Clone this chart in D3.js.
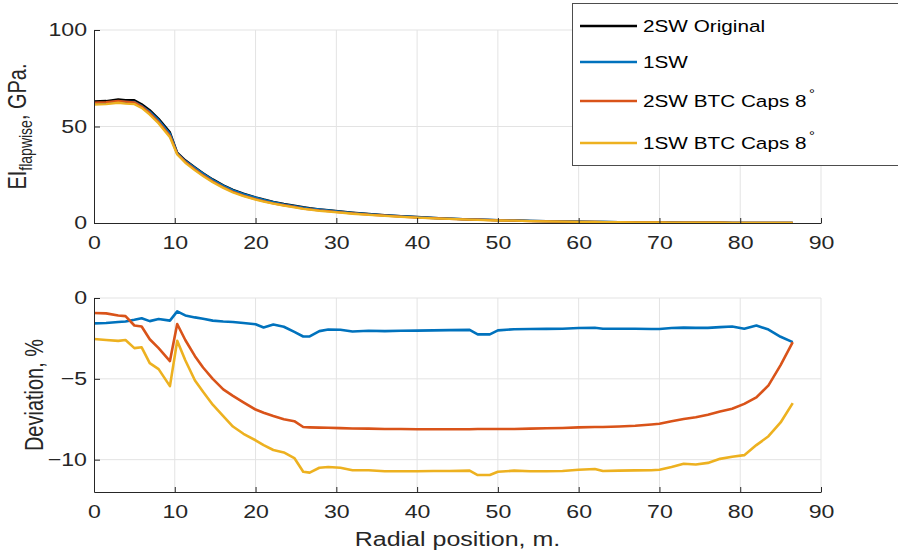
<!DOCTYPE html>
<html>
<head>
<meta charset="utf-8">
<script src="https://cdn.jsdelivr.net/npm/d3@7"></script>
<style>
  body { margin: 0; background: #fff; }
  svg { display: block; font-family: "Liberation Sans", Arial, sans-serif; }
</style>
</head>
<body>
<svg id="chart" width="898" height="555"></svg>
<script>
// radial stations, m.
var radial = [0, 1.5, 3, 3.9, 5, 5.9, 6.9, 8, 9.4, 10.3,
  11.3, 12.5, 13.5, 14.7, 16, 17.2, 18.5, 20, 21, 22.2,
  23.5, 24.8, 25.9, 26.7, 27.9, 29, 30.5, 32, 34, 36,
  38, 40, 42, 44, 46.5, 47.5, 49, 50, 52, 54,
  56, 58, 60, 62, 63, 65, 67, 69, 70, 71.5,
  73, 74.5, 76, 77.5, 79, 80.5, 82, 83.5, 85, 86.5];

// EI flapwise, GPa.
var ei2SW = [63, 63.2, 64, 63.6, 63.6, 61.5, 58.5, 54, 47, 36.5,
  32.5, 28.8, 25.8, 22.6, 19.6, 17.2, 15.2, 13.3, 12.2, 11.0,
  9.9, 9.0, 8.2, 7.7, 7.1, 6.6, 6.0, 5.4, 4.7, 4.1,
  3.6, 3.1, 2.7, 2.3, 1.9, 1.8, 1.6, 1.5, 1.3, 1.1,
  0.95, 0.8, 0.68, 0.58, 0.53, 0.45, 0.38, 0.32, 0.29, 0.25,
  0.21, 0.18, 0.15, 0.13, 0.11, 0.09, 0.07, 0.05, 0.04, 0.03];
var ei1SW = [62.0, 62.2, 63.1, 62.7, 62.7, 60.7, 57.7, 53.3, 46.3, 36.2,
  32.1, 28.5, 25.5, 22.3, 19.3, 16.9, 15.0, 13.1, 12.0, 10.8,
  9.7, 8.8, 8.0, 7.5, 7.0, 6.5, 5.9, 5.3, 4.6, 4.0,
  3.5, 3.0, 2.6, 2.3, 1.9, 1.8, 1.6, 1.5, 1.3, 1.1,
  0.93, 0.78, 0.67, 0.57, 0.52, 0.44, 0.37, 0.31, 0.28, 0.25,
  0.21, 0.18, 0.15, 0.13, 0.11, 0.09, 0.07, 0.05, 0.04, 0.03];
var ei2SWCaps = [62.4, 62.6, 63.3, 62.9, 62.5, 60.4, 57.0, 52.3, 45.2, 35.9,
  31.7, 27.8, 24.7, 21.5, 18.5, 16.2, 14.2, 12.4, 11.3, 10.2,
  9.2, 8.3, 7.5, 7.1, 6.5, 6.1, 5.5, 5.0, 4.3, 3.8,
  3.3, 2.8, 2.5, 2.1, 1.7, 1.7, 1.5, 1.4, 1.2, 1.0,
  0.87, 0.74, 0.63, 0.53, 0.49, 0.41, 0.35, 0.29, 0.27, 0.23,
  0.19, 0.17, 0.14, 0.12, 0.10, 0.08, 0.07, 0.05, 0.04, 0.03];
var ei1SWCaps = [61.4, 61.6, 62.3, 61.9, 61.6, 59.6, 56.1, 51.6, 44.4, 35.5,
  31.2, 27.3, 24.3, 21.1, 18.2, 15.8, 13.9, 12.1, 11.1, 10.0,
  9.0, 8.1, 7.3, 6.9, 6.3, 5.9, 5.4, 4.8, 4.2, 3.7,
  3.2, 2.8, 2.4, 2.1, 1.7, 1.6, 1.4, 1.3, 1.2, 1.0,
  0.85, 0.71, 0.61, 0.52, 0.47, 0.40, 0.34, 0.29, 0.26, 0.22,
  0.19, 0.16, 0.13, 0.12, 0.10, 0.08, 0.06, 0.05, 0.04, 0.03];

// deviation from 2SW original, %
var dev1SW = [-1.57, -1.55, -1.48, -1.45, -1.35, -1.25, -1.43, -1.3, -1.4, -0.83,
  -1.08, -1.2, -1.28, -1.4, -1.45, -1.48, -1.55, -1.62, -1.82, -1.64,
  -1.78, -2.1, -2.38, -2.38, -2.05, -1.95, -1.96, -2.07, -2.03, -2.05,
  -2.03, -2.02, -2.0, -1.99, -1.97, -2.25, -2.25, -2.0, -1.93, -1.92,
  -1.91, -1.9, -1.86, -1.84, -1.9, -1.9, -1.9, -1.92, -1.92, -1.86,
  -1.83, -1.85, -1.85, -1.8, -1.76, -1.9, -1.7, -1.95, -2.4, -2.73];
var dev2SWCaps = [-0.93, -0.95, -1.08, -1.12, -1.7, -1.76, -2.55, -3.1, -3.9, -1.61,
  -2.6, -3.6, -4.3, -5.0, -5.65, -6.05, -6.45, -6.9, -7.1, -7.3,
  -7.5, -7.62, -7.98, -8.0, -8.02, -8.03, -8.05, -8.07, -8.08, -8.1,
  -8.1, -8.12, -8.12, -8.12, -8.12, -8.1, -8.1, -8.1, -8.1, -8.08,
  -8.06, -8.04, -8.0, -7.98, -7.98, -7.95, -7.9, -7.82, -7.78, -7.62,
  -7.48, -7.38, -7.22, -7.02, -6.85, -6.55, -6.15, -5.4, -4.15, -2.73];
var dev1SWCaps = [-2.54, -2.6, -2.65, -2.6, -3.1, -3.05, -4.03, -4.4, -5.45, -2.65,
  -3.85, -5.1, -5.8, -6.6, -7.3, -7.95, -8.4, -8.8, -9.1, -9.4,
  -9.55, -9.9, -10.75, -10.8, -10.5, -10.45, -10.5, -10.65, -10.65, -10.72,
  -10.72, -10.72, -10.7, -10.7, -10.68, -10.95, -10.95, -10.75, -10.68, -10.72,
  -10.72, -10.7, -10.62, -10.58, -10.7, -10.68, -10.66, -10.65, -10.62, -10.45,
  -10.25, -10.3, -10.2, -9.95, -9.82, -9.72, -9.1, -8.55, -7.7, -6.5];

var xTicks = [0, 10, 20, 30, 40, 50, 60, 70, 80, 90];
var topTicks = [0, 50, 100];
var bottomTicks = [-10, -5, 0];
var seriesNames = ['2SW Original', '1SW', '2SW BTC Caps 8', '1SW BTC Caps 8'];
var colors = ['#000000', '#0072BD', '#D95319', '#EDB120'];

var SX = 1.25; // the figure is stretched sideways
var svg = d3.select('#chart');
var axisCol = '#262626';
var gridCol = '#e3e3e3';

var x = d3.scaleLinear().domain([0, 90]).range([94, 821]);
var yTop = d3.scaleLinear().domain([0, 100]).range([223, 30]);
var yBot = d3.scaleLinear().domain([-12, 0]).range([492, 298]);

function drawPanel(y, yTicks, seriesList, seriesColors, lw) {
  var g = svg.append('g');
  var top = y.range()[1], bottom = y.range()[0];

  // grid
  g.selectAll('.gx').data(xTicks.filter(function(d) { return d > 0; })).enter()
    .append('line')
    .attr('x1', function(d) { return x(d); }).attr('x2', function(d) { return x(d); })
    .attr('y1', top).attr('y2', bottom)
    .attr('stroke', gridCol).attr('stroke-width', 1);
  g.selectAll('.gy').data(yTicks.filter(function(d) { return y(d) < bottom - 1; })).enter()
    .append('line')
    .attr('x1', x(0)).attr('x2', x(90))
    .attr('y1', function(d) { return y(d); }).attr('y2', function(d) { return y(d); })
    .attr('stroke', gridCol).attr('stroke-width', 1);

  // lines
  var line = d3.line()
    .x(function(d) { return x(d[0]); })
    .y(function(d) { return y(d[1]); });
  seriesList.forEach(function(vals, i) {
    g.append('path')
      .datum(radial.map(function(r, j) { return [r, vals[j]]; }))
      .attr('d', line)
      .attr('fill', 'none')
      .attr('stroke', seriesColors[i])
      .attr('stroke-width', lw)
      .attr('stroke-linejoin', 'round');
  });

  // axes
  var xAxis = g.append('g')
    .attr('transform', 'translate(0,' + bottom + ')')
    .call(d3.axisBottom(x).tickValues(xTicks).tickSizeInner(-5).tickSizeOuter(0).tickPadding(0));
  xAxis.selectAll('text')
    .attr('y', 0).attr('dy', 0)
    .attr('transform', 'translate(0,26) scale(' + SX + ',1)');

  var yAxis = g.append('g')
    .attr('transform', 'translate(' + x(0) + ',0)')
    .call(d3.axisLeft(y).tickValues(yTicks).tickSizeInner(-6).tickSizeOuter(0).tickPadding(0));
  yAxis.selectAll('text')
    .attr('x', 0)
    .attr('transform', 'translate(-7,0) scale(' + SX + ',1)');

  [xAxis, yAxis].forEach(function(a) {
    a.select('.domain').attr('stroke', axisCol).attr('stroke-width', 1);
    a.selectAll('.tick line').attr('stroke', axisCol);
    a.selectAll('text').attr('fill', axisCol).attr('font-size', 18.5)
      .attr('font-family', '"Liberation Sans", Arial, sans-serif');
  });
  return g;
}

drawPanel(yTop, topTicks, [ei2SW, ei1SW, ei2SWCaps, ei1SWCaps], colors, 2.3);
drawPanel(yBot, bottomTicks, [dev1SW, dev2SWCaps, dev1SWCaps], colors.slice(1), 2.6);

// axis labels
var eiLabel = svg.append('text')
  .attr('transform', 'translate(26,' + ((30 + 223) / 2) + ') scale(' + SX + ',1) rotate(-90)')
  .attr('text-anchor', 'middle')
  .attr('font-size', 20)
  .attr('fill', axisCol);
eiLabel.append('tspan').text('EI');
eiLabel.append('tspan').attr('font-size', 14).attr('dy', 5).text('flapwise');
eiLabel.append('tspan').attr('dy', -5).text(', GPa.');

svg.append('text')
  .attr('transform', 'translate(43,' + ((298 + 492) / 2) + ') scale(' + SX + ',1) rotate(-90)')
  .attr('text-anchor', 'middle')
  .attr('font-size', 20)
  .attr('fill', axisCol)
  .text('Deviation, %');

svg.append('text')
  .attr('transform', 'translate(' + ((94 + 821) / 2) + ',546) scale(' + SX + ',1)')
  .attr('text-anchor', 'middle')
  .attr('font-size', 20)
  .attr('fill', axisCol)
  .text('Radial position, m.');

// legend
var legend = svg.append('g');
legend.append('rect')
  .attr('x', 572.5).attr('y', 3.5).attr('width', 330).attr('height', 162)
  .attr('fill', '#fff').attr('stroke', '#4d4d4d').attr('stroke-width', 1);
var legendY = [26, 62, 101, 143];
seriesNames.forEach(function(name, i) {
  legend.append('line')
    .attr('x1', 580).attr('x2', 637)
    .attr('y1', legendY[i]).attr('y2', legendY[i])
    .attr('stroke', colors[i]).attr('stroke-width', 2.3);
  var t = legend.append('text')
    .attr('transform', 'translate(643,' + (legendY[i] + 6) + ') scale(' + (SX - 0.03) + ',1)')
    .attr('font-size', 17)
    .attr('fill', '#000');
  t.append('tspan').text(name);
  if (i >= 2) {
    t.append('tspan').attr('font-size', 12).attr('dy', -9).attr('dx', 2).text('\u00b0');
  }
});
</script>
</body>
</html>
